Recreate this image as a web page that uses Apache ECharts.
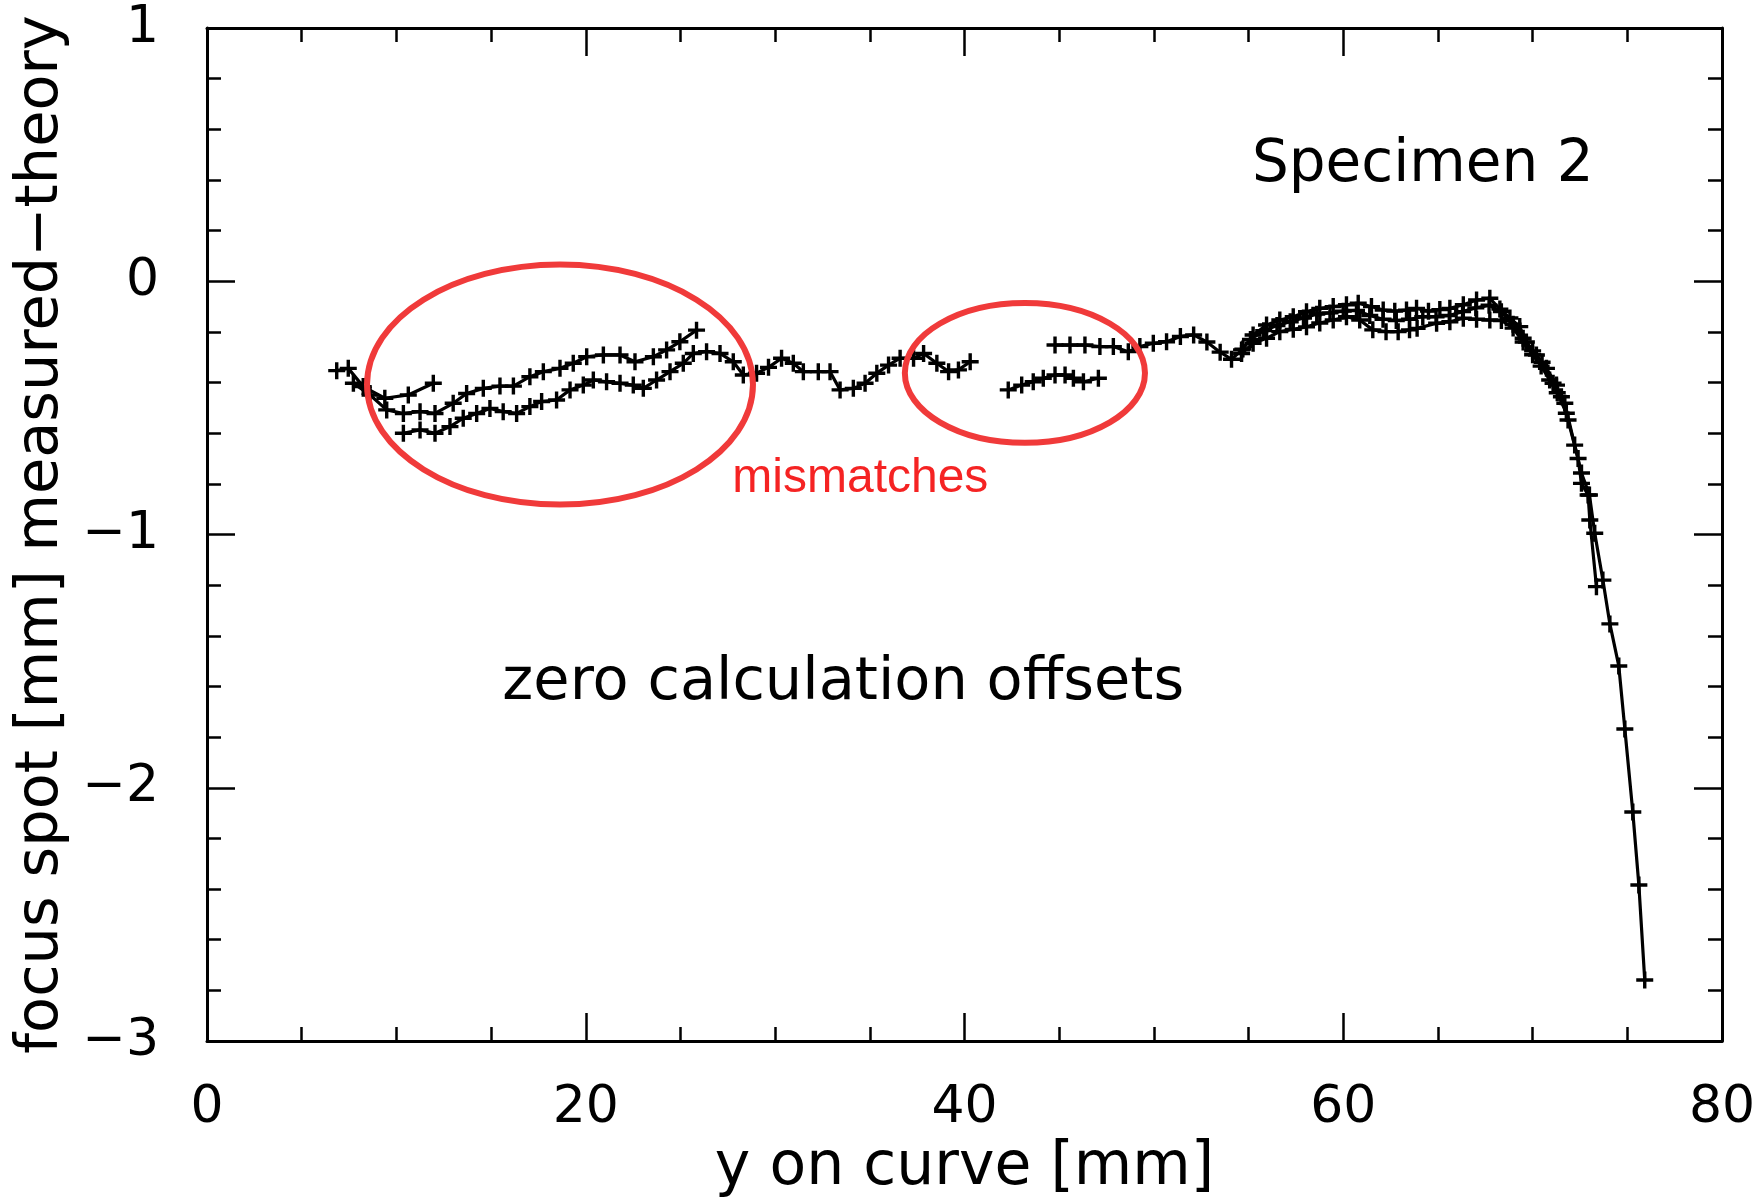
<!DOCTYPE html>
<html>
<head>
<meta charset="utf-8">
<script src="https://cdn.jsdelivr.net/npm/echarts@6/dist/echarts.min.js"></script>
<style>
html,body{margin:0;padding:0;background:#fff;}
#chart{width:1763px;height:1200px;}
</style>
</head>
<body>
<div id="chart"></div>
<script>
// ---- data (x = y on curve [mm], y = focus spot measured-theory [mm]) ----
const scanA = [[6.85,-0.353],[7.46,-0.344],[8.25,-0.416],[9.39,-0.462],[10.63,-0.449],[11.95,-0.403]];
const scanB = [[7.73,-0.403],[8.61,-0.449],[9.49,-0.508],[10.37,-0.522],[11.25,-0.515],[12.04,-0.522],[13.0,-0.482],[13.71,-0.443],[14.59,-0.423],[15.47,-0.414],[16.18,-0.414],[17.05,-0.377],[17.76,-0.357],[18.64,-0.344],[19.34,-0.324],[20.05,-0.298],[20.93,-0.291],[21.81,-0.291],[22.60,-0.318],[23.57,-0.298],[24.27,-0.271],[24.97,-0.239],[25.85,-0.193]];
const scanC = [[10.37,-0.600],[11.25,-0.587],[12.04,-0.600],[12.83,-0.574],[13.53,-0.541],[14.24,-0.522],[14.94,-0.502],[15.64,-0.515],[16.35,-0.522],[17.05,-0.495],[17.67,-0.475],[18.46,-0.469],[19.17,-0.429],[19.87,-0.410],[20.40,-0.390],[21.10,-0.397],[21.81,-0.403],[22.51,-0.410],[23.04,-0.423],[23.74,-0.390],[24.45,-0.357],[25.15,-0.324],[25.68,-0.285],[26.38,-0.278],[27.09,-0.285],[27.79,-0.318],[28.32,-0.370],[29.02,-0.363],[29.65,-0.340],[30.34,-0.304],[30.96,-0.324],[31.49,-0.357],[32.28,-0.357],[32.90,-0.357],[33.43,-0.429],[34.13,-0.423],[34.75,-0.403],[35.37,-0.363],[35.99,-0.331],[36.60,-0.304],[37.31,-0.304],[37.84,-0.285],[38.54,-0.324],[39.16,-0.357],[39.68,-0.350],[40.30,-0.318]];
const scanD = [[42.31,-0.429],[43.02,-0.410],[43.63,-0.397],[44.16,-0.383],[44.78,-0.370],[45.31,-0.370],[45.75,-0.383],[46.28,-0.397],[47.07,-0.383]];
const scanE = [[44.78,-0.252],[45.57,-0.252],[46.36,-0.252],[47.15,-0.258],[47.86,-0.258],[48.65,-0.278],[49.26,-0.258],[49.97,-0.245],[50.67,-0.239],[51.40,-0.218],[52.10,-0.212],[52.80,-0.240],[53.50,-0.280],[54.10,-0.308],[54.70,-0.268],[55.24,-0.212],[55.95,-0.173],[56.65,-0.153],[57.36,-0.140],[58.06,-0.120],[58.76,-0.107],[59.47,-0.100],[60.17,-0.093],[60.79,-0.087],[61.49,-0.100],[62.11,-0.114],[62.72,-0.118],[63.34,-0.114],[63.87,-0.107],[64.50,-0.118],[65.10,-0.112],[65.63,-0.107],[66.34,-0.093],[67.04,-0.074],[67.74,-0.067],[68.27,-0.110],[68.80,-0.145],[69.32,-0.179],[69.67,-0.240],[70.20,-0.291],[70.73,-0.344],[71.26,-0.410],[71.70,-0.482],[72.22,-0.647],[72.58,-0.757],[73.00,-0.844],[73.28,-0.995],[73.71,-1.180],[74.08,-1.353],[74.55,-1.519],[74.87,-1.768],[75.29,-2.096],[75.61,-2.384],[75.92,-2.759]];
const scanF = [[54.63,-0.271],[55.10,-0.230],[55.80,-0.195],[56.50,-0.175],[57.20,-0.160],[57.90,-0.145],[58.60,-0.130],[59.30,-0.125],[60.00,-0.118],[60.70,-0.115],[61.40,-0.135],[62.10,-0.150],[62.80,-0.155],[63.50,-0.150],[64.20,-0.140],[64.90,-0.140],[65.60,-0.135],[66.30,-0.120],[67.00,-0.105],[67.70,-0.095],[68.35,-0.120],[68.97,-0.170],[69.50,-0.225],[70.00,-0.275],[70.50,-0.320],[71.08,-0.403],[71.52,-0.456],[71.87,-0.548],[72.40,-0.700],[72.58,-0.798],[72.93,-0.844],[73.02,-0.943],[73.37,-1.206]];
const scanG = [[54.63,-0.285],[55.24,-0.245],[55.95,-0.225],[56.65,-0.199],[57.36,-0.190],[58.06,-0.180],[58.76,-0.165],[59.47,-0.153],[60.17,-0.140],[60.87,-0.153],[61.56,-0.192],[62.26,-0.199],[62.90,-0.199],[63.50,-0.192],[63.90,-0.186],[64.93,-0.166],[65.63,-0.160],[66.34,-0.146],[67.04,-0.150],[67.74,-0.153],[68.35,-0.155],[68.97,-0.185],[69.50,-0.240],[70.00,-0.290],[70.45,-0.335],[70.90,-0.390],[71.30,-0.440],[71.78,-0.521]];
const scans = [scanA, scanB, scanC, scanD, scanE, scanF, scanG];

const xTitle = 'y on curve [mm]';
const yTitle = 'focus spot [mm] measured\u2212theory';
const notes = [
  {text: 'Specimen 2', at: [64.2, 0.455], color: '#000', size: 58},
  {text: 'zero calculation offsets', at: [33.6, -1.59], color: '#000', size: 59},
  {text: 'mismatches', at: [34.5, -0.78], color: '#f52323', size: 48, font: '"Liberation Sans", Arial, sans-serif'}
];
// annotation ellipses in data units: center x, center y, half-width (mm), half-height
const rings = [[18.64, -0.408, 10.19, 0.474], [43.19, -0.362, 6.34, 0.276]];

const FONT = '"DejaVu Sans", sans-serif';
const crossPath = 'path://M-1.6,-8H1.6V-1.6H8V1.6H1.6V8H-1.6V1.6H-8V-1.6H-1.6Z';

function axisBase(extra) {
  return Object.assign({
    type: 'value',
    axisLine: {show: true, onZero: false, lineStyle: {color: '#000', width: 3}},
    axisTick: {show: true, inside: true, length: 28, lineStyle: {color: '#000', width: 2.5}},
    minorTick: {show: true, length: 14, lineStyle: {color: '#000', width: 2.5}},
    splitLine: {show: false},
    minorSplitLine: {show: false}
  }, extra);
}

const chart = echarts.init(document.getElementById('chart'), null, {renderer: 'canvas'});
const option = {
  animation: false,
  backgroundColor: '#fff',
  grid: {left: 207, right: 41, top: 28, bottom: 159, containLabel: false, outerBoundsMode: 'none'},
  xAxis: [
    axisBase({position: 'bottom', min: 0, max: 80, interval: 20,
      minorTick: {show: true, splitNumber: 4, length: 14, lineStyle: {color: '#000', width: 2.5}},
      axisLabel: {show: true, fontSize: 52, color: '#000', fontFamily: FONT, margin: 41},
      name: xTitle, nameLocation: 'middle', nameGap: 96,
      nameTextStyle: {fontSize: 60, color: '#000', fontFamily: FONT}}),
    axisBase({position: 'top', min: 0, max: 80, interval: 20,
      minorTick: {show: true, splitNumber: 4, length: 14, lineStyle: {color: '#000', width: 2.5}},
      axisLabel: {show: false}})
  ],
  yAxis: [
    axisBase({position: 'left', min: -3, max: 1, interval: 1,
      minorTick: {show: true, splitNumber: 5, length: 14, lineStyle: {color: '#000', width: 2.5}},
      axisLabel: {show: true, fontSize: 52, color: '#000', fontFamily: FONT, margin: 48,
        formatter: v => (v < 0 ? '\u2212' + Math.abs(v) : String(v))},
      name: yTitle, nameLocation: 'middle', nameGap: 130, nameRotate: 90,
      nameTextStyle: {fontSize: 59, color: '#000', fontFamily: FONT}}),
    axisBase({position: 'right', min: -3, max: 1, interval: 1,
      minorTick: {show: true, splitNumber: 5, length: 14, lineStyle: {color: '#000', width: 2.5}},
      axisLabel: {show: false}})
  ],
  series: scans.map((d, i) => ({
    type: 'line',
    name: 'scan' + i,
    xAxisIndex: 0, yAxisIndex: 0,
    data: d,
    symbol: crossPath,
    symbolSize: 17,
    showSymbol: true,
    lineStyle: {color: '#000', width: 3.2},
    itemStyle: {color: '#000', borderWidth: 0},
    emphasis: {disabled: true},
    z: 3
  }))
};
chart.setOption(option);

const px = p => chart.convertToPixel({xAxisIndex: 0, yAxisIndex: 0}, p);
const elems = [];
rings.forEach(r => {
  const c = px([r[0], r[1]]);
  const e = px([r[0] + r[2], r[1] - r[3]]);
  elems.push({type: 'ellipse', z: 10,
    shape: {cx: c[0], cy: c[1], rx: Math.abs(e[0] - c[0]), ry: Math.abs(e[1] - c[1])},
    style: {fill: 'none', stroke: '#f03a3a', lineWidth: 6}});
});
notes.forEach(n => {
  const c = px(n.at);
  elems.push({type: 'text', z: 10, x: c[0], y: c[1],
    style: {text: n.text, fill: n.color, fontSize: n.size, fontFamily: n.font || FONT,
      align: 'center', verticalAlign: 'middle'}});
});
chart.setOption({graphic: elems});
</script>
</body>
</html>
